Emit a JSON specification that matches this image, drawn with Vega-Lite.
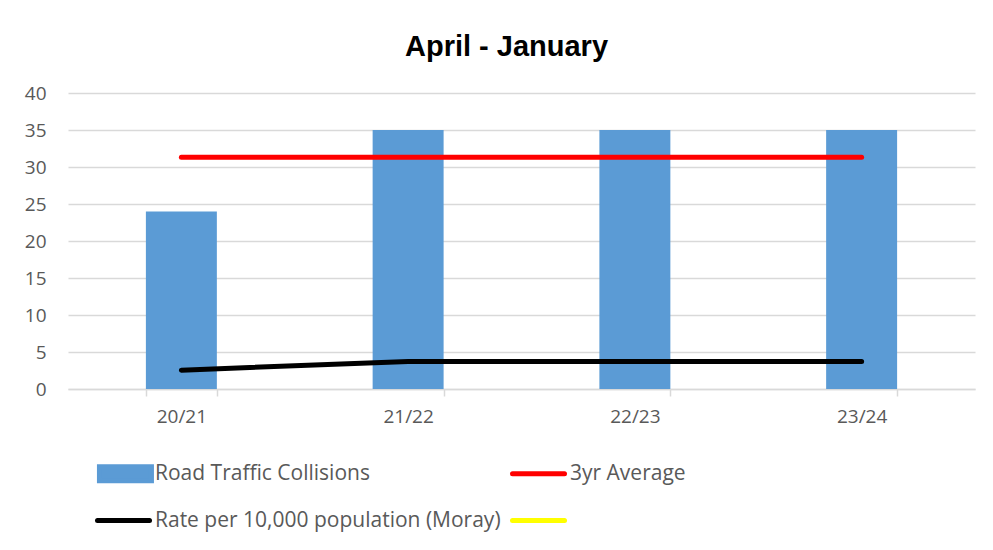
{
  "$schema": "https://vega.github.io/schema/vega-lite/v6.json",
  "autosize": "none",
  "width": 907,
  "height": 296,
  "padding": {"left": 68, "top": 93, "right": 18, "bottom": 161},
  "background": "white",
  "title": {
    "text": "April - January",
    "font": "Liberation Sans",
    "fontSize": 29,
    "fontWeight": "bold",
    "color": "#000000",
    "anchor": "middle",
    "dx": -15,
    "offset": 22
  },
  "data": {
    "values": [
      {"season": "20/21", "collisions": 24, "avg": 31.33, "rate": 2.55},
      {"season": "21/22", "collisions": 35, "avg": 31.33, "rate": 3.72},
      {"season": "22/23", "collisions": 35, "avg": 31.33, "rate": 3.72},
      {"season": "23/24", "collisions": 35, "avg": 31.33, "rate": 3.72}
    ]
  },
  "encoding": {
    "x": {
      "field": "season",
      "type": "nominal",
      "sort": null,
      "scale": {"paddingInner": 0.687, "paddingOuter": 0.3435},
      "axis": {
        "title": null,
        "labelAngle": 0,
        "labelFont": "Open Sans",
        "labelFontSize": 19,
        "labelColor": "#595959",
        "labelPadding": 11,
        "domainColor": "#d9d9d9",
        "domainWidth": 1.5,
        "tickColor": "#d9d9d9",
        "tickWidth": 1.5,
        "tickSize": 7,
        "tickBand": "extent",
        "grid": false
      }
    }
  },
  "layer": [
    {
      "mark": {"type": "bar", "color": "#5B9BD5"},
      "encoding": {
        "y": {
          "field": "collisions",
          "type": "quantitative",
          "scale": {"domain": [0, 40], "nice": false},
          "axis": {
            "title": null,
            "values": [0, 5, 10, 15, 20, 25, 30, 35, 40],
            "labelOverlap": false,
            "domain": false,
            "ticks": false,
            "labelFont": "Open Sans",
            "labelFontSize": 19,
            "labelColor": "#595959",
            "labelPadding": 22,
            "gridColor": "#d9d9d9",
            "gridWidth": 1.5
          }
        },
        "color": {
          "datum": "Road Traffic Collisions",
          "scale": {
            "domain": ["Road Traffic Collisions", "3yr Average", "Rate per 10,000 population (Moray)", "Series 4"],
            "range": ["#5B9BD5", "#FF0000", "#000000", "#FFFF00"]
          },
          "legend": {
            "title": null,
            "orient": "none",
            "legendX": 45,
            "legendY": 370,
            "direction": "horizontal",
            "columns": 2,
            "gridAlign": "all",
            "columnPadding": 1,
            "rowPadding": 12,
            "labelFont": "Open Sans",
            "labelFontSize": 21,
            "labelColor": "#595959",
            "labelOffset": 21,
            "labelLimit": 0,
            "labelExpr": "datum.label == 'Series 4' ? '' : datum.label",
            "symbolType": "M-4,0H4",
            "symbolSize": 169,
            "symbolStrokeWidth": 5,
            "encode": {
              "symbols": {
                "update": {
                  "stroke": {"signal": "datum.value === 'Road Traffic Collisions' ? 'transparent' : scale('color', datum.value)"},
                  "fill": {"signal": "datum.value === 'Road Traffic Collisions' ? scale('color', datum.value) : 'transparent'"},
                  "opacity": {"value": 1},
                  "shape": {"signal": "datum.value === 'Road Traffic Collisions' ? 'M-3.7,-1.08H4.3V1.08H-3.7Z' : 'M-4,-1.08M-4,1.08M-4,0H4'"},
                  "size": {"value": 169},
                  "strokeWidth": {"value": 5},
                  "strokeCap": {"value": "round"}
                }
              }
            }
          }
        }
      }
    },
    {
      "mark": {"type": "line", "strokeWidth": 5, "strokeCap": "round", "strokeJoin": "round"},
      "encoding": {
        "y": {
          "field": "avg",
          "type": "quantitative",
          "axis": {
            "title": null,
            "values": [0, 5, 10, 15, 20, 25, 30, 35, 40],
            "labelOverlap": false,
            "domain": false,
            "ticks": false,
            "labelFont": "Open Sans",
            "labelFontSize": 19,
            "labelColor": "#595959",
            "labelPadding": 22,
            "gridColor": "#d9d9d9",
            "gridWidth": 1.5
          }
        },
        "color": {"datum": "3yr Average"}
      }
    },
    {
      "mark": {"type": "line", "strokeWidth": 5, "strokeCap": "round", "strokeJoin": "round"},
      "encoding": {
        "y": {
          "field": "rate",
          "type": "quantitative",
          "axis": {
            "title": null,
            "values": [0, 5, 10, 15, 20, 25, 30, 35, 40],
            "labelOverlap": false,
            "domain": false,
            "ticks": false,
            "labelFont": "Open Sans",
            "labelFontSize": 19,
            "labelColor": "#595959",
            "labelPadding": 22,
            "gridColor": "#d9d9d9",
            "gridWidth": 1.5
          }
        },
        "color": {"datum": "Rate per 10,000 population (Moray)"}
      }
    }
  ],
  "config": {
    "view": {"stroke": null}
  }
}
